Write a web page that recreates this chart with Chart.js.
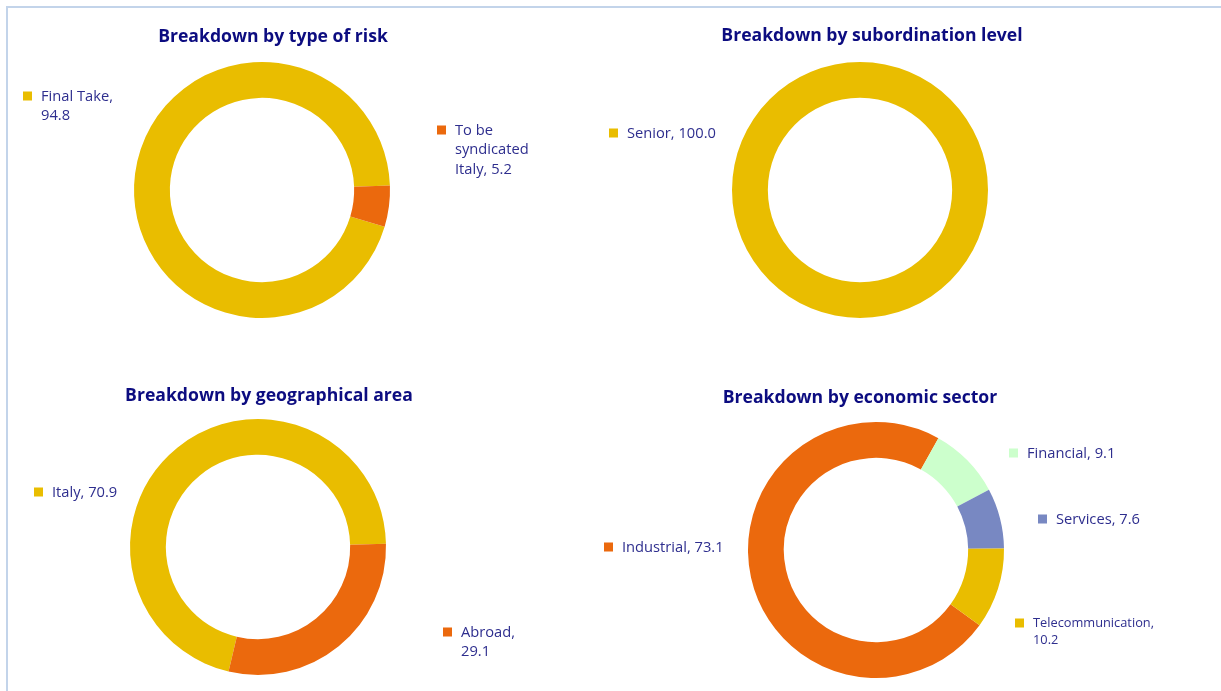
<!DOCTYPE html>
<html>
<head>
<meta charset="utf-8">
<title>Breakdown charts</title>
<script src="https://cdn.jsdelivr.net/npm/chart.js@4.4.1/dist/chart.umd.min.js"></script>
<style>
    html, body { margin: 0; padding: 0; background: #ffffff; }
    #page { position: relative; width: 1221px; height: 691px; overflow: hidden; }
    #frame {
        position: absolute; left: 6px; top: 6px; right: -10px; bottom: -10px;
        border-left: 2px solid #c3d4ea; border-top: 2px solid #c3d4ea;
    }
    #page canvas { position: absolute; left: 0; top: 0; }
</style>
</head>
<body>
<div id="page">
    <div id="frame"></div>
    <canvas id="riskChart" width="1221" height="691"></canvas>
    <canvas id="subordinationChart" width="1221" height="691"></canvas>
    <canvas id="areaChart" width="1221" height="691"></canvas>
    <canvas id="sectorChart" width="1221" height="691"></canvas>
</div>

<script>
// =============================================
// DATA
// =============================================
const riskLabels = ["Final Take", "To be syndicated Italy"];
const riskValues = [94.8, 5.2];

const subordinationLabels = ["Senior"];
const subordinationValues = [100.0];

const areaLabels = ["Italy", "Abroad"];
const areaValues = [70.9, 29.1];

const sectorLabels = ["Industrial", "Financial", "Services", "Telecommunication"];
const sectorValues = [73.1, 9.1, 7.6, 10.2];

// =============================================
// STYLE
// =============================================
const YELLOW = "#e9bd00";
const ORANGE = "#eb690d";
const MINT = "#ccffcc";
const SLATE = "#7888c2";
const TITLE_COLOR = "#0c0c80";
const TEXT_COLOR = "#2e2e8e";
const FONT = '"Open Sans", "Noto Sans", sans-serif';

const W = 1221, H = 691;
const RADIUS = 128;

// split a label into lines that fit maxWidth
function wrapText(ctx, text, maxWidth) {
    const words = text.split(" ");
    const lines = [];
    let line = "";
    words.forEach(w => {
        const test = line ? line + " " + w : w;
        if (line && ctx.measureText(test).width > maxWidth) {
            lines.push(line);
            line = w;
        } else {
            line = test;
        }
    });
    if (line) lines.push(line);
    return lines;
}

// title + legend squares with "label, value" text
function makeLabelPlugin(title, titleX, titleY, spots) {
    return {
        id: "sliceLabels",
        afterDraw(chart) {
            const ctx = chart.ctx;
            const ds = chart.data.datasets[0];
            ctx.save();

            ctx.font = "bold 17.6px " + FONT;
            ctx.fillStyle = TITLE_COLOR;
            ctx.textAlign = "center";
            ctx.textBaseline = "middle";
            ctx.fillText(title, titleX, titleY);

            ctx.textAlign = "left";
            chart.data.labels.forEach((label, i) => {
                const s = spots[i];
                const size = s.size || 14.7;
                ctx.font = size + "px " + FONT;
                const text = label + ", " + ds.data[i].toFixed(1);
                const lines = wrapText(ctx, text, s.wrap || 400);

                ctx.fillStyle = ds.backgroundColor[i];
                ctx.fillRect(s.x, s.y - 4.5, 9, 9);

                ctx.fillStyle = TEXT_COLOR;
                lines.forEach((ln, k) => {
                    ctx.fillText(ln, s.x + 18, s.y + 0.5 + k * (s.lh || 19.5));
                });
            });
            ctx.restore();
        }
    };
}

function drawDonut(id, labels, values, colors, cx, cy, rotation, plugin) {
    return new Chart(document.getElementById(id), {
        type: "doughnut",
        data: {
            labels: labels,
            datasets: [{
                data: values,
                backgroundColor: colors,
                borderWidth: 0
            }]
        },
        options: {
            responsive: false,
            animation: false,
            events: [],
            cutout: "72%",
            rotation: rotation,
            layout: {
                padding: {
                    left: cx - RADIUS,
                    top: cy - RADIUS,
                    right: W - (cx + RADIUS),
                    bottom: H - (cy + RADIUS)
                }
            },
            plugins: {
                legend: { display: false },
                tooltip: { enabled: false },
                title: { display: false }
            }
        },
        plugins: [plugin]
    });
}

// =============================================
// CHARTS
// =============================================
drawDonut("riskChart", riskLabels, riskValues, [YELLOW, ORANGE], 262, 190, 106.7,
    makeLabelPlugin("Breakdown by type of risk", 273, 37, [
        { x: 23, y: 96, wrap: 82 },
        { x: 437, y: 130, wrap: 82 }
    ]));

drawDonut("subordinationChart", subordinationLabels, subordinationValues, [YELLOW], 860, 190, 0,
    makeLabelPlugin("Breakdown by subordination level", 872, 36, [
        { x: 609, y: 133 }
    ]));

drawDonut("areaChart", areaLabels, areaValues, [YELLOW, ORANGE], 258, 547, 193.3,
    makeLabelPlugin("Breakdown by geographical area", 269, 396, [
        { x: 34, y: 492 },
        { x: 443, y: 632, wrap: 64 }
    ]));

drawDonut("sectorChart", sectorLabels, sectorValues, [ORANGE, MINT, SLATE, YELLOW], 876, 550, 126,
    makeLabelPlugin("Breakdown by economic sector", 860, 398, [
        { x: 604, y: 547 },
        { x: 1009, y: 453 },
        { x: 1038, y: 519 },
        { x: 1015, y: 623, wrap: 135, size: 12.8, lh: 17 }
    ]));
</script>
</body>
</html>
